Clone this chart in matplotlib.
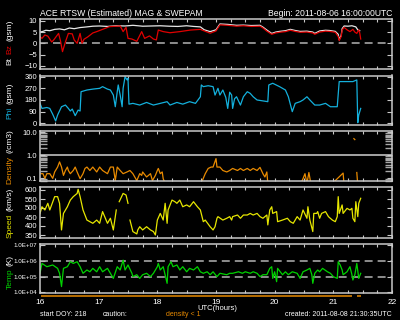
import numpy as np
import matplotlib
matplotlib.use("Agg")
import matplotlib.pyplot as plt
from matplotlib.ticker import MultipleLocator, FixedLocator, LogLocator, NullFormatter

# ACE RTSW 6-hour plot, times in minutes after 2011-08-06 16:00 UTC
nan = np.nan

bt_min = [0, 3, 6, 10, 15, 20, 25, 30, 35, 41, 48, 54, 61, 69, 78, 87, 95, 105, 114, 123,
          132, 141, 150, 157, 164, 168, 174, 180, 184, 192, 201, 208, 216, 225, 228, 232, 237, 241, 245, 251,
          256, 261, 266, 273, 279, 281, 286, 292, 296, 302, 305, 306, 308, 309, 311, 315, 319, 323, 325, 327]
bt_nt = [5.0, 5.3, 5.8, 5.6, 6.2, 6.4, 6.0, 6.8, 6.5, 7.0, 7.3, 7.6, 7.7, 7.5, 7.8, 7.7, 8.0, 7.6, 7.7, 7.8,
         7.6, 7.5, 7.8, 7.5, 7.3, 6.0, 5.2, 6.0, 8.6, 8.4, 8.0, 8.1, 7.9, 8.0, 7.2, 5.9, 4.4, 5.0, 5.3, 5.6,
         6.2, 5.7, 5.3, 5.4, 5.0, 4.4, 5.5, 5.8, 5.7, 5.3, 4.0, 1.6, 3.5, 6.5, 7.7, 7.6, 7.8, 7.3, 6.0, 5.6]

bz_min = [0, 2, 5, 8, 12, 14, 19, 21, 23, 26, 29, 33, 35, 38, 41, 43, 45, 49, 54, 58,
          64, 71, 78, 82, 85, 88, 90, 94, 99, 104, 107, 112, 116, 119, 121, 126, 133, 143, 154, 164,
          168, 174, 180, 184, 192, 201, 208, 216, 225, 228, 232, 237, 241, 245, 251, 256, 261, 266, 273, 279,
          281, 286, 292, 296, 302, 305, 306, 308, 309, 311, 314, 317, 320, 322, 324, 326, 327, 328]
bz_nt = [2.9, 2.2, 3.7, 3.2, 0.6, 1.5, 4.4, 1.0, -3.7, 0.6, 4.4, 4.2, 1.5, 0.0, 4.4, 0.0, 1.8, 2.9, 4.6, 5.2,
         6.2, 7.4, 7.6, 7.7, 5.2, 7.1, 2.2, 1.9, 0.9, 5.2, 2.2, 3.3, 1.9, 1.5, 5.9, 5.2, 4.7, 5.2, 5.9, 6.2,
         5.5, 4.5, 5.5, 8.2, 8.0, 7.6, 7.8, 7.5, 7.6, 6.8, 5.4, 4.0, 4.6, 4.9, 5.2, 5.8, 5.3, 4.9, 5.0, 4.6,
         4.0, 5.0, 5.4, 5.3, 4.9, 3.0, 1.2, 3.0, 5.8, 7.1, 6.0, 5.2, 6.2, 5.0, 4.4, 6.0, 4.6, 1.9]

phi_min = [0, 2, 7, 10, 13, 16, 18, 22, 26, 29, 31, 33, 36, 39, 41, 42, 48, 54, 61, 64,
           69, 72, 75, 77, 79, 80, 82, 84, 85, 87, 89, 90, 91, 95, 102, 109, 116, 123, 130, 133,
           140, 146, 153, 159, 164, 165, 167, 172, 177, 179, 182, 184, 187, 190, 192, 194, 196, 197, 199, 201,
           205, 208, 212, 215, 218, 222, 228, 233, 234, 238, 245, 251, 254, 258, 261, 266, 269, 273, 276, 281,
           286, 292, 297, 304, 306, 314, 320, 324, 325, 326, 328]
phi_deg = [154, 115, 122, 115, 70, 18, 64, 128, 141, 115, 95, 110, 59, 102, 95, 244, 257, 264, 270, 283,
           264, 257, 218, 128, 244, 296, 218, 128, 270, 360, 335, 348, 148, 154, 141, 161, 141, 154, 167, 141,
           161, 148, 167, 154, 205, 296, 283, 290, 283, 218, 270, 218, 257, 200, 115, 240, 218, 115, 190, 205,
           141, 205, 244, 231, 205, 180, 173, 167, 296, 309, 283, 257, 205, 90, 154, 167, 180, 205, 180, 141,
           141, 154, 128, 128, 322, 322, 322, 335, 5, 64, 115]

den_min = [1, 3, 5, 7, 10, 13, 15, 18, 20, 22, 24, 26, 28, 29, 31, 34, 36, 38, 41, 44,
           46, 48, 51, 54, 58, 61, 64, 69, 72, 75, 77, 79, 82, 85, 89, 92, 95, 99, 102, 104,
           105, 109, 113, 115, 118, 120, 121, 123, 125, 126, 128, 133, 148, 164, 169, 172, 175, 177, 180, 181,
           184, 187, 191, 194, 197, 202, 205, 208, 212, 215, 218, 222, 225, 228, 230, 232, 233, 246, 266, 269,
           271, 273, 275, 277, 297, 310, 311, 319, 320, 321, 322, 323, 324, 325, 328]
den_cc = [0.16, 0.16, 0.10, 0.16, 0.16, 0.10, 0.19, 0.31, 0.52, 0.31, 0.135, 0.22, 0.31, 0.22, 0.16, 0.22, 0.31, 0.19, 0.097, 0.16,
          0.27, 0.31, 0.22, 0.31, 0.19, 0.31, 0.22, 0.16, 0.31, 0.31, 0.08, 0.31, 0.22, 0.16, 0.19, 0.22, 0.16, 0.08, 0.16, 0.135,
          0.19, 0.115, 0.16, 0.08, 0.135, 0.22, 0.27, 0.16, 0.19, 0.097, 0.06, 0.05, 0.05, 0.05, 0.16, 0.27, 0.31, 0.31, 0.72, 0.31,
          0.31, 0.22, 0.19, 0.22, 0.27, 0.22, 0.27, 0.22, 0.27, 0.22, 0.27, 0.22, 0.30, 0.16, 0.115, 0.19, 0.06, 0.05, 0.05, 0.097,
          0.16, 0.06, 0.18, 0.06, 0.05, 0.17, 0.05, 0.05, nan, 5.3, 4.8, nan, 0.18, 0.05, 0.05]

spd_min = [0, 2, 5, 8, 10, 15, 18, 20, 22, 24, 28, 31, 34, 38, 39, 41, 44, 48, 51, 54,
           58, 61, 64, 69, 72, 75, 78, 79, 81, 85, 88, 90, 91, 92, 95, 99, 100, 102, 105, 109,
           113, 116, 118, 120, 123, 126, 128, 130, 131, 135, 138, 140, 143, 146, 150, 153, 157, 161, 164, 167,
           169, 174, 177, 179, 181, 182, 187, 191, 194, 196, 197, 202, 205, 208, 212, 215, 218, 222, 225, 228,
           232, 233, 235, 237, 238, 242, 243, 248, 253, 256, 259, 263, 266, 269, 273, 274, 276, 279, 280, 283,
           284, 286, 288, 292, 295, 299, 302, 304, 305, 306, 309, 310, 314, 317, 319, 320, 322, 323, 325, 326, 328]
spd_kms = [470, 507, 489, 526, 489, 563, 563, 526, 378, 470, 507, 544, 563, 581, 604, 563, 489, 433, 424, 415,
           433, 415, 480, 415, 443, 378, 489, nan, 535, 581, 572, 526, nan, 433, 369, 356, 378, 396, 378, 396,
           378, 369, 350, 433, 470, 433, 526, 415, 489, 544, 535, 526, 544, 507, 517, 507, 535, 507, 489, 424,
           433, 396, 378, 396, 443, 452, 433, 443, 452, 433, 452, 461, 443, 461, 461, 470, 461, 470, 452, 443,
           461, 406, 489, 507, 470, 480, 424, 433, 443, 424, 415, 452, 433, 489, 443, 507, 433, 369, 470, 470,
           480, 443, 470, 480, 452, 433, 424, 452, 563, 470, 517, 470, 498, 489, 498, 443, 424, 535, 452, 526, 554]

tmp_min = [0, 2, 7, 13, 18, 20, 22, 24, 28, 31, 34, 38, 41, 44, 48, 51, 54, 58, 61, 64,
           69, 72, 75, 79, 82, 85, 87, 90, 94, 95, 99, 102, 105, 109, 113, 116, 120, 121, 123, 126,
           130, 131, 134, 136, 140, 143, 146, 150, 153, 157, 161, 164, 167, 171, 174, 177, 181, 184, 191, 194,
           197, 203, 207, 210, 215, 218, 222, 225, 228, 232, 235, 237, 238, 240, 242, 243, 248, 251, 254, 258,
           263, 266, 269, 273, 276, 278, 279, 281, 284, 286, 289, 294, 297, 300, 304, 305, 307, 309, 310, 314,
           317, 319, 320, 322, 324, 326, 328]
tmp_k = [1.6e5, 6.8e5, 4.2e5, 5.4e5, 3.3e5, 1.6e5, 2.3e4, 3.3e5, 4.2e5, 8.7e5, 6.8e5, 8.7e5, 4.2e5, 1.6e5, 2.6e5, 2.0e5, 3.3e5, 2.0e5, 4.2e5, 2.0e5,
         3.3e5, 1.6e5, 7.6e4, 4.2e5, 2.6e5, 1.1e6, 2.6e5, 5.4e5, 1.6e5, 9.8e4, 1.3e5, 7.6e4, 1.3e5, 1.6e5, 9.8e4, 1.6e5, 4.2e5, 6.8e5, 2.6e5, 4.2e5,
         3.7e4, 4.2e5, 8.7e5, 4.2e5, 5.4e5, 2.6e5, 4.2e5, 2.0e5, 3.3e5, 2.6e5, 4.2e5, 2.0e5, 1.6e5, 2.0e5, 1.3e5, 2.0e5, 9.8e4, 1.6e5, 1.3e5, 1.6e5,
         1.6e5, 2.0e5, 1.6e5, 2.0e5, 1.6e5, 2.0e5, 1.6e5, 9.8e4, 1.3e5, 1.3e5, 3.3e5, 4.2e5, 7.6e4, 2.0e5, 4.7e4, 3.3e5, 1.3e5, 2.0e5, 1.3e5, 2.0e5,
         1.6e5, 7.6e4, 2.0e5, 2.6e5, 3.3e5, 1.3e5, 3.7e4, 1.6e5, 2.6e5, 2.0e5, 3.3e5, 2.0e5, 1.6e5, 9.8e4, 7.6e4, 8.7e5, 5.4e5, 2.6e5, 1.3e5, 2.0e5,
         4.2e5, 1.3e5, 6.0e4, 1.3e5, 6.8e5, 7.6e4, 1.6e5]

hour_labels = ["16", "17", "18", "19", "20", "21", "22"]

plt.rcParams["font.family"] = ["Liberation Sans", "DejaVu Sans"]

FRAME = "#c8c8c8"
BT_C, BZ_C = "#e6e6e6", "#e00000"
PHI_C, DEN_C, SPD_C, TMP_C = "#14b0dc", "#e88a00", "#e6e600", "#00d200"
W, H = 400, 320

fig = plt.figure(figsize=(W / 100, H / 100), dpi=100, facecolor="black")


def panel(top_px, bottom_px):
    ax = fig.add_axes([40 / W, 1 - bottom_px / H, 352 / W, (bottom_px - top_px) / H])
    ax.set_facecolor("black")
    for s in ax.spines.values():
        s.set_color(FRAME)
        s.set_linewidth(1.1)
    ax.set_xlim(0, 360)
    ax.xaxis.set_major_locator(MultipleLocator(60))
    ax.xaxis.set_minor_locator(MultipleLocator(15))
    ax.tick_params(axis="x", which="both", direction="in", top=True, bottom=True,
                   color=FRAME, length=2.5, width=0.8, labelbottom=False)
    ax.tick_params(axis="y", which="major", direction="in", left=True, right=True,
                   color=FRAME, labelcolor="white", length=3.5, width=0.8, labelsize=5.5, pad=2)
    return ax


def log_minor(ax):
    ax.yaxis.set_minor_locator(LogLocator(base=10, subs=np.arange(2, 10)))
    ax.yaxis.set_minor_formatter(NullFormatter())
    ax.tick_params(axis="y", which="minor", direction="in", left=True, right=True,
                   color="#a8a8a8", length=5, width=1.0)


dash = (5.2, 3.3)

# Bt / Bz
ax1 = panel(19, 69)
ax1.axhline(0, color="#b4b4b4", lw=1.1, dashes=dash)
ax1.plot(bt_min, bt_nt, color=BT_C, lw=0.9)
ax1.plot(bz_min, bz_nt, color=BZ_C, lw=0.9)
ax1.set_ylim(-11.4, 10.8)
ax1.yaxis.set_major_locator(FixedLocator([-10, -5, 0, 5, 10]))

# Phi
ax2 = panel(75.5, 125)
ax2.plot(phi_min, phi_deg, color=PHI_C, lw=0.9)
ax2.set_ylim(-13, 369)
ax2.yaxis.set_major_locator(FixedLocator([0, 90, 180, 270, 360]))

# Density
ax3 = panel(130.7, 181)
ax3.set_yscale("log")
ax3.axhline(1.0, color="#d0d0d0", lw=1.1)
ax3.plot(den_min, den_cc, color=DEN_C, lw=0.9)
ax3.set_ylim(0.077, 11.7)
ax3.yaxis.set_major_locator(FixedLocator([0.1, 1, 10]))
ax3.set_yticklabels(["0.1", "1.0", "10.0"])
log_minor(ax3)

# Speed
ax4 = panel(187.3, 237.7)
ax4.plot(spd_min, spd_kms, color=SPD_C, lw=0.9)
ax4.set_ylim(335, 615)
ax4.yaxis.set_major_locator(FixedLocator([350, 400, 450, 500, 550, 600]))

# Temperature
ax5 = panel(244, 293.3)
ax5.set_yscale("log")
ax5.axhline(1e6, color="#b4b4b4", lw=1.1, dashes=dash)
ax5.axhline(1e5, color="#b4b4b4", lw=1.1, dashes=dash)
ax5.plot(tmp_min, tmp_k, color=TMP_C, lw=0.9)
ax5.set_ylim(8.6e3, 1.16e7)
ax5.yaxis.set_major_locator(FixedLocator([1e4, 1e5, 1e6, 1e7]))
ax5.set_yticklabels(["1.0E+04", "1.0E+05", "1.0E+06", "1.0E+07"])
ax5.tick_params(axis="y", labelsize=4.5)
log_minor(ax5)
ax5.set_xticks(range(0, 361, 60))
ax5.set_xticklabels(hour_labels)
ax5.tick_params(axis="x", labelbottom=True, labelcolor="white", labelsize=6, pad=4)

# caution bar: density below 1 /cm3
axb = fig.add_axes([40 / W, 1 - 297 / H, 352 / W, 2 / H])
axb.set_xlim(0, 360)
axb.set_ylim(-1, 1)
axb.axis("off")
low = np.where(np.array(den_cc) < 1, 0.0, np.nan)
axb.plot(den_min, low, color=DEN_C, lw=1.1, solid_capstyle="butt")


def side_label(pieces, center_px):
    renderer = fig.canvas.get_renderer()
    texts = [fig.text(10 / W, 0, s, color=c, rotation=90, ha="center", va="bottom", fontsize=6)
             for s, c in pieces]
    hs = [t.get_window_extent(renderer).height for t in texts]
    gap = 3
    y = (H - center_px) - (sum(hs) + gap * (len(hs) - 1)) / 2
    for t, h in zip(texts, hs):
        t.set_y(y / H)
        y += h + gap


side_label([("Bt", BT_C), ("Bz", BZ_C), ("(gsm)", "white")], 42.5)
side_label([("Phi", PHI_C), ("(gsm)", "white")], 101)
side_label([("Density", DEN_C), ("(/cm3)", "white")], 157)
side_label([("Speed", SPD_C), ("(km/s)", "white")], 213)
side_label([("Temp", TMP_C), ("(K)", "white")], 272)

fig.text(40 / W, 1 - 13 / H, "ACE RTSW (Estimated) MAG & SWEPAM", color="white", fontsize=6.2, va="center")
fig.text(392 / W, 1 - 13 / H, "Begin: 2011-08-06 16:00:00UTC", color="white", fontsize=6.2,
         va="center", ha="right")
fig.text(217 / W, 1 - 308 / H, "UTC(hours)", color="white", fontsize=5.5, va="center", ha="center")
fig.text(40 / W, 1 - 314 / H, "start DOY: 218", color="white", fontsize=5, va="center")
fig.text(103 / W, 1 - 314 / H, "caution:", color="white", fontsize=5, va="center")
fig.text(166 / W, 1 - 314 / H, "density < 1", color=DEN_C, fontsize=5, va="center")
fig.text(392 / W, 1 - 314 / H, "created: 2011-08-08 21:30:35UTC", color="white", fontsize=5,
         va="center", ha="right")

fig.savefig("out.png", dpi=100, facecolor="black")
